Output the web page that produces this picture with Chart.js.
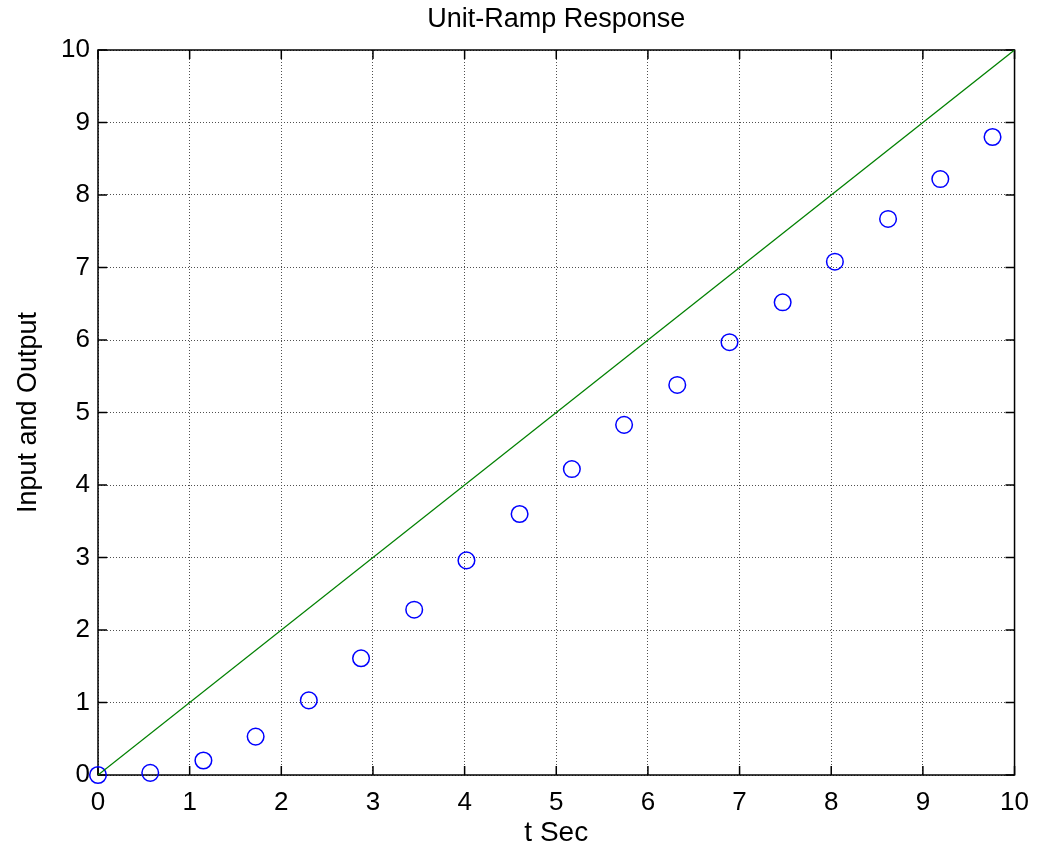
<!DOCTYPE html>
<html>
<head>
<meta charset="utf-8">
<script src="https://cdn.jsdelivr.net/npm/chart.js@4/dist/chart.umd.min.js"></script>
<style>
    html, body { margin: 0; padding: 0; background: #ffffff; }
    #caixa { width: 1041px; height: 850px; }
</style>
</head>
<body>
<div id="caixa"><canvas id="rampaChart" width="1041" height="850"></canvas></div>
<script>
// Dados (tempo em segundos e saída do sistema)
const tempo = [0, 0.57, 1.15, 1.72, 2.30, 2.87, 3.45, 4.02, 4.60, 5.17, 5.74, 6.32, 6.89, 7.47, 8.04, 8.62, 9.19, 9.76];
const saida = [0, 0.03, 0.20, 0.53, 1.03, 1.61, 2.28, 2.96, 3.60, 4.22, 4.83, 5.38, 5.97, 6.52, 7.08, 7.67, 8.22, 8.80];

// Entrada rampa unitária
const rampaT = [0, 10];
const rampaY = [0, 10];

// Marcas dos eixos
const marcasX = [0, 1, 2, 3, 4, 5, 6, 7, 8, 9, 10];
const marcasY = [0, 1, 2, 3, 4, 5, 6, 7, 8, 9, 10];

const fonte = "'Liberation Sans', Arial, sans-serif";

// Moldura da área do gráfico com marcas para dentro (estilo MATLAB)
const moldura = {
    id: 'moldura',
    beforeDatasetsDraw(chart) {
        const { ctx, chartArea: a, scales: { x, y } } = chart;
        const tam = 9;
        ctx.save();
        ctx.strokeStyle = '#000000';
        ctx.lineWidth = 1.5;
        ctx.strokeRect(a.left, a.top, a.right - a.left, a.bottom - a.top);
        ctx.beginPath();
        x.ticks.forEach(t => {
            const px = x.getPixelForValue(t.value);
            ctx.moveTo(px, a.bottom); ctx.lineTo(px, a.bottom - tam);
            ctx.moveTo(px, a.top); ctx.lineTo(px, a.top + tam);
        });
        y.ticks.forEach(t => {
            const py = y.getPixelForValue(t.value);
            ctx.moveTo(a.left, py); ctx.lineTo(a.left + tam, py);
            ctx.moveTo(a.right, py); ctx.lineTo(a.right - tam, py);
        });
        ctx.stroke();
        ctx.restore();
    }
};

// Configurar dados para o gráfico
const data = {
    datasets: [
        {
            label: 'Entrada',
            data: rampaT.map((t, i) => ({ x: t, y: rampaY[i] })),
            showLine: true,
            borderColor: '#008000',
            borderWidth: 1.3,
            pointRadius: 0,
            fill: false,
        },
        {
            label: 'Saída',
            data: tempo.map((t, i) => ({ x: t, y: saida[i] })),
            showLine: false,
            pointStyle: 'circle',
            pointRadius: 8.3,
            pointBorderWidth: 1.5,
            borderColor: '#0000ff',
            backgroundColor: 'rgba(0,0,0,0)',
            clip: false,
        },
    ],
};

const grade = {
    color: '#505050',
    lineWidth: 1,
    drawTicks: false,
};

// Configurações do gráfico
const config = {
    type: 'scatter',
    data: data,
    options: {
        responsive: false,
        animation: false,
        layout: { padding: { left: 0, right: 22, top: 0, bottom: 0 } },
        plugins: {
            legend: { display: false },
            tooltip: { enabled: false },
            title: { display: false },
        },
        scales: {
            x: {
                type: 'linear',
                min: 0,
                max: 10,
                afterBuildTicks: s => { s.ticks = marcasX.map(v => ({ value: v })); },
                afterFit: s => { s.height = 75; },
                grid: grade,
                border: { display: false, dash: [1, 2] },
                ticks: {
                    color: '#000000',
                    padding: 12,
                    maxRotation: 0,
                    font: { family: fonte, size: 26 },
                },
                title: {
                    display: true,
                    text: 't Sec',
                    color: '#000000',
                    font: { family: fonte, size: 28 },
                    padding: { top: 0, bottom: 0 },
                },
            },
            // Eixo de cima só para o título, centrado sobre a área do gráfico
            topo: {
                type: 'linear',
                position: 'top',
                min: 0,
                max: 10,
                afterFit: s => { s.height = 50; },
                grid: { display: false },
                border: { display: false },
                ticks: { display: false },
                title: {
                    display: true,
                    text: 'Unit-Ramp Response',
                    color: '#000000',
                    font: { family: fonte, size: 27 },
                    padding: { top: 3, bottom: 0 },
                },
            },
            y: {
                type: 'linear',
                min: 0,
                max: 10,
                afterBuildTicks: s => { s.ticks = marcasY.map(v => ({ value: v })); },
                afterFit: s => { s.width = 98; },
                grid: grade,
                border: { display: false, dash: [1, 2] },
                ticks: {
                    color: '#000000',
                    padding: 8,
                    font: { family: fonte, size: 26 },
                },
                title: {
                    display: true,
                    text: 'Input and Output',
                    color: '#000000',
                    font: { family: fonte, size: 27 },
                    padding: { top: 12, bottom: 0 },
                },
            },
        },
    },
    plugins: [moldura],
};

// Renderizar o gráfico
const ctx = document.getElementById('rampaChart').getContext('2d');
new Chart(ctx, config);
</script>
</body>
</html>
